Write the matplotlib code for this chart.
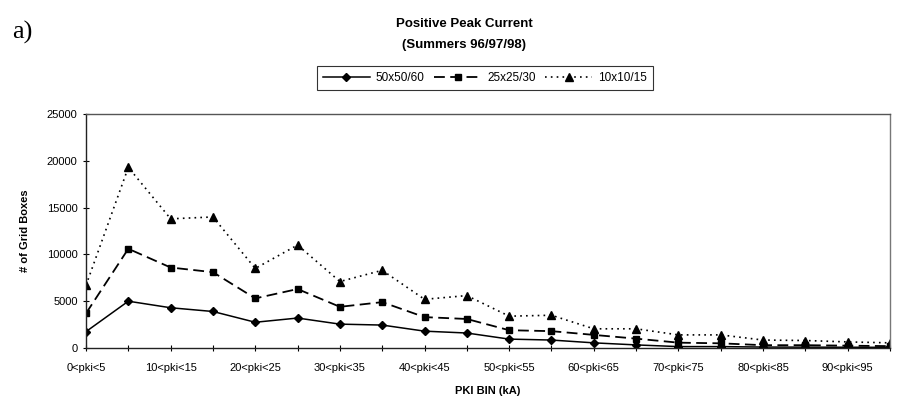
import matplotlib.pyplot as plt

plt.rcParams['font.family'] = ['Liberation Sans', 'DejaVu Sans']

bins = ["%d<pki<%d" % (lo, lo + 5) for lo in range(0, 100, 5)]
tick_labels = [b if i % 2 == 0 else "" for i, b in enumerate(bins)]

s50 = [1750, 5000, 4300, 3900, 2750, 3200, 2550, 2450, 1800, 1600,
       950, 850, 550, 330, 150, 150, 100, 90, 80, 70]
s25 = [3700, 10600, 8600, 8100, 5300, 6300, 4400, 4900, 3300, 3100,
       1900, 1800, 1400, 1000, 570, 500, 300, 300, 250, 200]
s10 = [6700, 19300, 13800, 14000, 8500, 11000, 7100, 8300, 5200, 5600,
       3400, 3500, 2050, 2050, 1400, 1400, 850, 800, 650, 550]

fig = plt.figure(figsize=(9.14, 4.04), dpi=100)
ax = fig.add_axes([86/914, 1-348/404, (890-86)/914, (348-114)/404])

x = range(len(bins))
ax.plot(x, s50, color='black', lw=1.1, marker='D', ms=4, label='50x50/60')
ax.plot(x, s25, color='black', lw=1.3, ls=(0, (6, 3)), marker='s', ms=4.5, label='25x25/30')
ax.plot(x, s10, color='black', lw=1.2, ls=(0, (1, 2.5)), marker='^', ms=5.5, label='10x10/15')

ax.set_xlim(0, 19)
ax.set_ylim(0, 25000)
ax.set_yticks(range(0, 25001, 5000))
ax.set_xticks(list(x))
ax.set_xticklabels(tick_labels)
ax.tick_params(direction='inout', length=5, width=0.8, labelsize=8)
ax.tick_params(axis='x', pad=8)
for s in ax.spines.values():
    s.set_linewidth(1.0)
    s.set_color('#222222')
ax.spines['right'].set_color('#777777')
ax.spines['top'].set_color('#555555')

ax.set_xlabel("PKI BIN (kA)", fontsize=8, fontweight='bold', labelpad=10)
ax.set_ylabel("# of Grid Boxes", fontsize=8, fontweight='bold', labelpad=12)

fig.text(464/914, 1-24/404, "Positive Peak Current", ha='center', va='center',
         fontsize=9.5, fontweight='bold')
fig.text(464/914, 1-45/404, "(Summers 96/97/98)", ha='center', va='center',
         fontsize=9.5, fontweight='bold')
fig.text(12/914, 1-32/404, "a)", ha='left', va='center', fontsize=19,
         family='Liberation Serif')

leg = fig.legend(loc='center', bbox_to_anchor=(485/914, 1-78/404), ncol=3,
                 fontsize=8.5, frameon=True, fancybox=False, handlelength=4.0,
                 columnspacing=0.8, handletextpad=0.5, borderpad=0.5)
leg.get_frame().set_edgecolor('black')
leg.get_frame().set_linewidth(0.8)

fig.savefig("out.png", dpi=100)
